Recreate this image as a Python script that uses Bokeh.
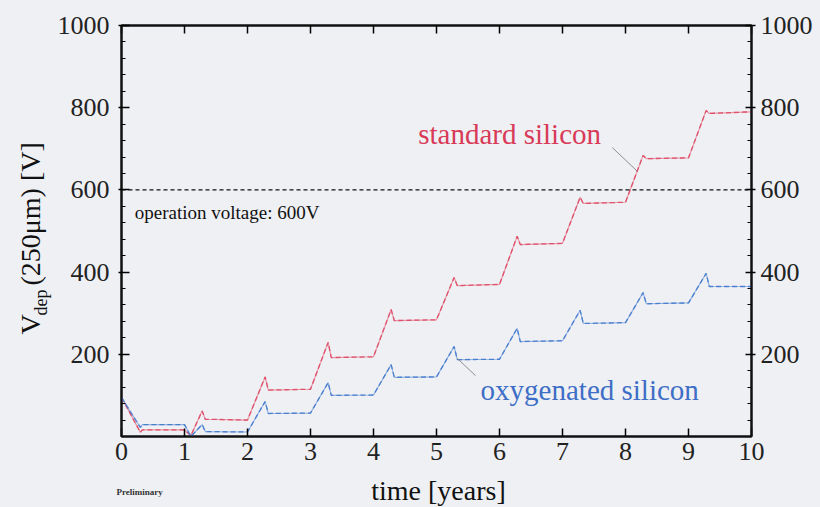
import numpy as np
from bokeh.plotting import figure
from bokeh.layouts import row, column
from bokeh.models import Range1d, LinearAxis, FixedTicker, Label, Span
from bokeh.embed import file_html
from bokeh.resources import INLINE

# ---- data ----
years = [0, 0.3, 0.33, 1.0, 1.1, 1.28, 1.33, 2.0, 2.28, 2.33, 3.0, 3.28, 3.33,
         4.0, 4.28, 4.33, 5.0, 5.28, 5.33, 6.0, 6.28, 6.33, 7.0, 7.28, 7.33,
         8.0, 8.28, 8.33, 9.0, 9.28, 9.33, 10.0]
standard_silicon = [95, 10, 16, 16, 2, 62, 42, 40, 145, 113, 115, 229, 192, 194,
                    309, 282, 284, 387, 367, 370, 487, 467, 470, 582, 567, 570,
                    684, 676, 678, 793, 786, 790]
oxygenated_silicon = [95, 22, 29, 29, 0, 29, 12, 11, 85, 56, 57, 131, 100, 101,
                      175, 144, 145, 219, 187, 188, 263, 231, 233, 307, 275, 277,
                      350, 323, 325, 397, 365, 365]
x_ticks = [0, 1, 2, 3, 4, 5, 6, 7, 8, 9, 10]
y_ticks = [200, 400, 600, 800, 1000]
y_minor = list(range(40, 1000, 40))
operation_voltage = 600

std_leader_x = [7.79, 8.19]
std_leader_y = [703, 645]
oxy_leader_x = [5.33, 5.62]
oxy_leader_y = [190, 148]

RED = "#e0506a"
RED_TXT = "#d83a58"
BLUE = "#4a7fd0"
BLUE_TXT = "#3e6ec6"
BG = "#eff0f4"
SERIF = "Liberation Serif"

TOTAL_W, TOTAL_H = 820, 507
LEFT_W = 52
MAIN_H = 474

# ---------------- main plot ----------------
p = figure(width=TOTAL_W - LEFT_W, height=MAIN_H, output_backend="svg",
           toolbar_location=None, x_range=Range1d(0, 10), y_range=Range1d(0, 1000),
           min_border_left=121 - LEFT_W, min_border_right=TOTAL_W - 751,
           min_border_top=25, min_border_bottom=MAIN_H - 436)
p.background_fill_color = BG
p.border_fill_color = BG
p.outline_line_color = "#111111"
p.outline_line_width = 2
p.grid.visible = False

def style_axis(ax, tick_in, tick_out, standoff, font="26px"):
    ax.axis_line_color = "#111111"
    ax.axis_line_width = 2
    ax.major_tick_in = tick_in
    ax.major_tick_out = tick_out
    ax.major_tick_line_width = 1.5
    ax.minor_tick_in = 4
    ax.minor_tick_out = 0
    ax.minor_tick_line_width = 1.2
    ax.major_label_standoff = standoff
    ax.major_label_text_font = SERIF
    ax.major_label_text_font_size = font
    ax.major_label_text_color = "#222222"

xa = p.xaxis[0]
xa.ticker = FixedTicker(ticks=x_ticks, minor_ticks=[])
style_axis(xa, 8, 0, 6)

ya = p.yaxis[0]
ya.ticker = FixedTicker(ticks=y_ticks, minor_ticks=y_minor)
style_axis(ya, 8, 3, 9)

ry = LinearAxis(ticker=FixedTicker(ticks=y_ticks, minor_ticks=y_minor))
style_axis(ry, 6, 4, 5)
p.add_layout(ry, "right")

tx = LinearAxis(ticker=FixedTicker(ticks=x_ticks, minor_ticks=[]))
style_axis(tx, 8, 0, 0, font="0px")
tx.major_label_text_alpha = 0
p.add_layout(tx, "above")

# operation voltage line
p.add_layout(Span(location=operation_voltage, dimension="width", line_color="#111111",
                  line_dash="4 3", line_width=1.3))

# curves
p.line(years, standard_silicon, line_color=RED, line_width=1.2, line_alpha=0.55)
p.line(years, standard_silicon, line_color=RED, line_width=1.3, line_dash="5 3")
p.line(years, oxygenated_silicon, line_color=BLUE, line_width=1.2, line_alpha=0.55)
p.line(years, oxygenated_silicon, line_color=BLUE, line_width=1.3, line_dash="5 3")

# leader lines
p.line(std_leader_x, std_leader_y, line_color="#777777", line_width=0.8)
p.line(oxy_leader_x, oxy_leader_y, line_color="#777777", line_width=0.8)

# in-plot annotations
p.add_layout(Label(x=4.71, y=737, text="standard silicon", text_font=SERIF,
                   text_font_size="29px", text_color=RED_TXT, text_baseline="middle"))
p.add_layout(Label(x=5.70, y=112, text="oxygenated silicon", text_font=SERIF,
                   text_font_size="29px", text_color=BLUE_TXT, text_baseline="middle"))
p.add_layout(Label(x=0.21, y=545, text="operation voltage: 600V", text_font=SERIF,
                   text_font_size="19px", text_color="#111111", text_baseline="middle"))

# ---------------- strips holding the axis titles ----------------
def strip(w, h, xr, yr):
    s = figure(width=w, height=h, output_backend="svg", toolbar_location=None,
               x_range=xr, y_range=yr, x_axis_type=None, y_axis_type=None,
               min_border=0, frame_align=False)
    s.background_fill_color = BG
    s.border_fill_color = BG
    s.outline_line_color = None
    s.grid.visible = False
    return s

left = strip(LEFT_W, TOTAL_H, Range1d(0, LEFT_W), Range1d(TOTAL_H, 0))
left.add_layout(Label(x=30, y=334, text="V", angle=np.pi / 2, text_font=SERIF,
                      text_font_size="28px", text_color="#111111",
                      text_align="left", text_baseline="middle"))
left.add_layout(Label(x=40, y=315, text="dep", angle=np.pi / 2, text_font=SERIF,
                      text_font_size="18px", text_color="#111111",
                      text_align="left", text_baseline="middle"))
left.add_layout(Label(x=30, y=285, text="(250μm) [V]", angle=np.pi / 2,
                      text_font=SERIF, text_font_size="28px", text_color="#111111",
                      text_align="left", text_baseline="middle"))

bottom = strip(TOTAL_W - LEFT_W, TOTAL_H - MAIN_H, Range1d(LEFT_W, TOTAL_W),
               Range1d(TOTAL_H, MAIN_H))
bottom.add_layout(Label(x=438, y=490, text="time [years]", text_font=SERIF,
                        text_font_size="28px", text_color="#111111",
                        text_align="center", text_baseline="middle"))
bottom.add_layout(Label(x=116, y=491, text="Preliminary", text_font=SERIF,
                        text_font_size="9px", text_font_style="bold",
                        text_color="#333333", text_align="left",
                        text_baseline="middle"))

col = column(p, bottom, spacing=0, styles={"background-color": BG})
layout = row(left, col, spacing=0, styles={"background-color": BG})
open("out.html", "w").write(file_html(layout, INLINE))
